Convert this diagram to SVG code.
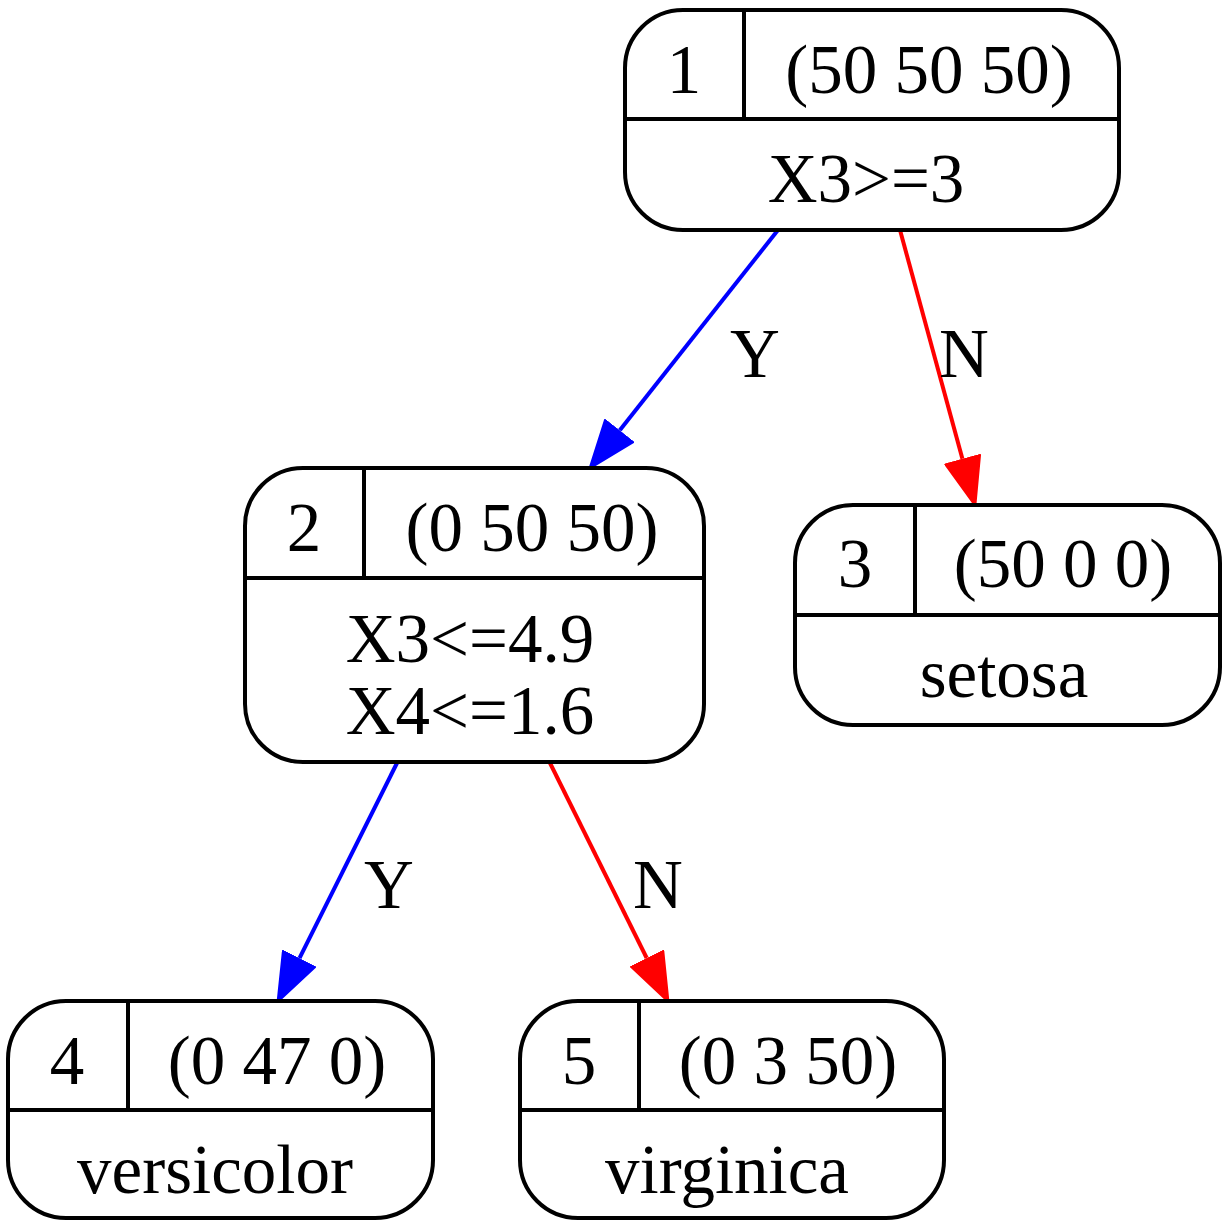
<svg xmlns="http://www.w3.org/2000/svg" width="1225" height="1220" viewBox="0 0 1225 1220">
<style>
.box{fill:#fff;stroke:#000;stroke-width:4}
.div{stroke:#000;stroke-width:4;fill:none}
text{font-family:"Liberation Serif","Times New Roman",serif;font-size:69px;fill:#000;text-anchor:middle}
.e{fill:none;stroke-width:4}
.y{stroke:#0000ff}
.n{stroke:#ff0000}
</style>
<defs>
<marker id="ab" viewBox="0 0 50 38" refX="0" refY="19" markerWidth="50" markerHeight="38" markerUnits="userSpaceOnUse" orient="auto"><path d="M1,1 L49,19 L1,37 z" fill="#0000ff" stroke="#0000ff" stroke-width="2" stroke-linejoin="round"/></marker>
<marker id="ar" viewBox="0 0 50 38" refX="0" refY="19" markerWidth="50" markerHeight="38" markerUnits="userSpaceOnUse" orient="auto"><path d="M1,1 L49,19 L1,37 z" fill="#ff0000" stroke="#ff0000" stroke-width="2" stroke-linejoin="round"/></marker>
</defs>
<rect width="1225" height="1220" fill="#fff"/>
<g id="connectors">
<path class="e y" d="M778,230 L619.8,430.3" marker-end="url(#ab)"/>
<path class="e n" d="M900,230 L962.4,458.7" marker-end="url(#ar)"/>
<path class="e y" d="M397,763 L299.5,958.1" marker-end="url(#ab)"/>
<path class="e n" d="M550,763 L646.7,958" marker-end="url(#ar)"/>
<text x="755" y="377">Y</text>
<text x="964" y="377">N</text>
<text x="389" y="908">Y</text>
<text x="658" y="908">N</text>
</g>
<g id="node1">
<rect class="box" x="625" y="10" width="494" height="220" rx="58" ry="58"/>
<path class="div" d="M625,119 H1119 M744,10 V119"/>
<text x="684" y="93">1</text>
<text x="929" y="93">(50 50 50)</text>
<text x="866" y="202">X3&gt;=3</text>
</g>
<g id="node2">
<rect class="box" x="245" y="468" width="459" height="294" rx="58" ry="58"/>
<path class="div" d="M245,578 H704 M364,468 V578"/>
<text x="304" y="551">2</text>
<text x="532" y="551">(0 50 50)</text>
<text x="470" y="662">X3&lt;=4.9</text>
<text x="470" y="734">X4&lt;=1.6</text>
</g>
<g id="node3">
<rect class="box" x="795" y="505" width="425" height="220" rx="58" ry="58"/>
<path class="div" d="M795,615 H1220 M915,505 V615"/>
<text x="855" y="587">3</text>
<text x="1063" y="587">(50 0 0)</text>
<text x="1004" y="697">setosa</text>
</g>
<g id="node4">
<rect class="box" x="8" y="1001" width="425" height="217" rx="58" ry="58"/>
<path class="div" d="M8,1110 H433 M128,1001 V1110"/>
<text x="67" y="1084">4</text>
<text x="277" y="1084">(0 47 0)</text>
<text x="215" y="1193">versicolor</text>
</g>
<g id="node5">
<rect class="box" x="520" y="1001" width="424" height="217" rx="58" ry="58"/>
<path class="div" d="M520,1110 H944 M639,1001 V1110"/>
<text x="579" y="1084">5</text>
<text x="788" y="1084">(0 3 50)</text>
<text x="727" y="1193">virginica</text>
</g>
</svg>
